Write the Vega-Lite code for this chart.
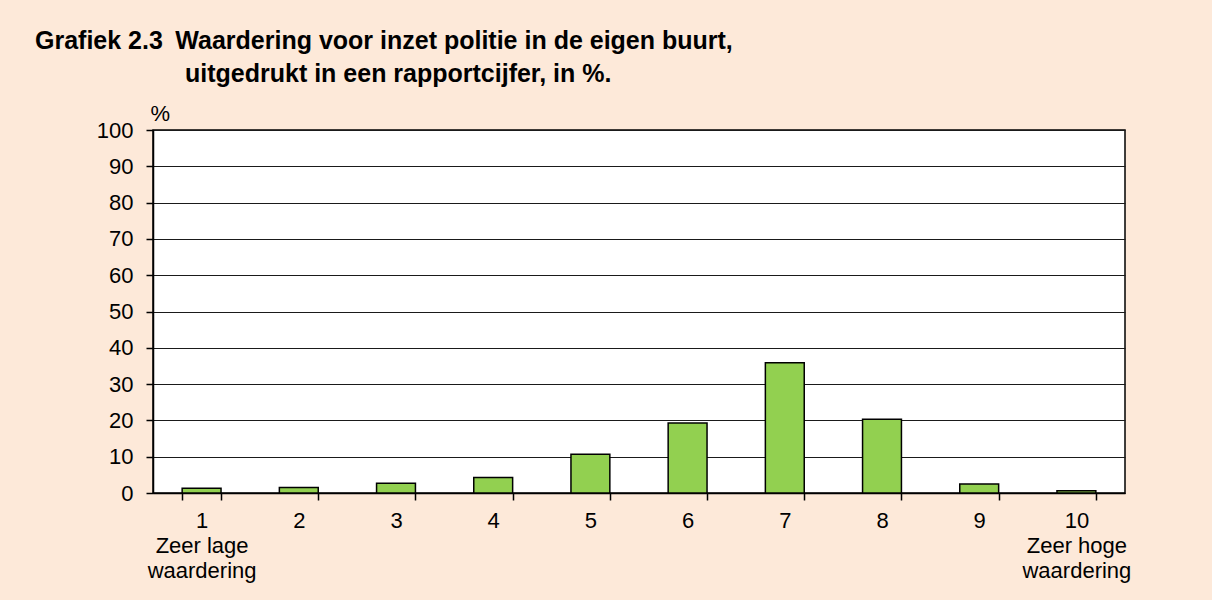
{
  "$schema": "https://vega.github.io/schema/vega-lite/v6.json",
  "width": 972,
  "height": 363,
  "autosize": {"type": "none"},
  "padding": {"left": 153, "top": 130, "right": 87, "bottom": 107},
  "background": "#FDE9D9",
  "title": {
    "text": ["Grafiek 2.3\u2002Waardering voor inzet politie in de eigen buurt,", "\u200b\u2002\u2002\u2002\u2002\u2002\u2002\u2002\u2002\u2002\u2002\u2002\u2002uitgedrukt in een rapportcijfer, in %."],
    "anchor": "start",
    "frame": "group",
    "font": "Liberation Sans",
    "fontSize": 25,
    "fontWeight": "bold",
    "color": "#000000",
    "lineHeight": 33,
    "baseline": "alphabetic",
    "dx": -118,
    "dy": 15,
    "offset": 10
  },
  "data": {
    "values": [
      {"cijfer": "1", "procent": 1.3},
      {"cijfer": "2", "procent": 1.5},
      {"cijfer": "3", "procent": 2.7},
      {"cijfer": "4", "procent": 4.3},
      {"cijfer": "5", "procent": 10.7},
      {"cijfer": "6", "procent": 19.3},
      {"cijfer": "7", "procent": 35.9},
      {"cijfer": "8", "procent": 20.3},
      {"cijfer": "9", "procent": 2.5},
      {"cijfer": "10", "procent": 0.6}
    ]
  },
  "mark": {"type": "bar", "fill": "#92D050", "stroke": "#000000", "strokeWidth": 1.5},
  "encoding": {
    "x": {
      "field": "cijfer",
      "type": "ordinal",
      "sort": null,
      "scale": {"paddingInner": 0.6, "paddingOuter": 0.3},
      "axis": {
        "title": null,
        "labelAngle": 0,
        "tickBand": "extent",
        "labelExpr": "datum.value == '1' ? ['1', 'Zeer lage', 'waardering'] : datum.value == '10' ? ['10', 'Zeer hoge', 'waardering'] : datum.value",
        "labelLineHeight": 25,
        "labelPadding": 10
      }
    },
    "y": {
      "field": "procent",
      "type": "quantitative",
      "scale": {"domain": [0, 100], "nice": false},
      "axis": {
        "values": [0, 10, 20, 30, 40, 50, 60, 70, 80, 90, 100],
        "title": "%",
        "titleAngle": 0,
        "titleX": -3,
        "titleY": -10,
        "titleAlign": "left",
        "titleBaseline": "alphabetic",
        "titleFontSize": 22,
        "titleFontWeight": "normal",
        "labelPadding": 13,
        "grid": true,
        "gridColor": "#1a1a1a",
        "gridWidth": 1,
        "gridOpacity": 1
      }
    }
  },
  "config": {
    "font": "Liberation Sans",
    "view": {"fill": "#FFFFFF", "stroke": "#000000", "strokeWidth": 1.5},
    "axis": {
      "labelFont": "Liberation Sans",
      "labelFontSize": 22,
      "labelColor": "#000000",
      "titleFont": "Liberation Sans",
      "titleColor": "#000000",
      "domainColor": "#000000",
      "domainWidth": 1.5,
      "tickColor": "#000000",
      "tickSize": 7,
      "tickWidth": 1.5
    }
  }
}
